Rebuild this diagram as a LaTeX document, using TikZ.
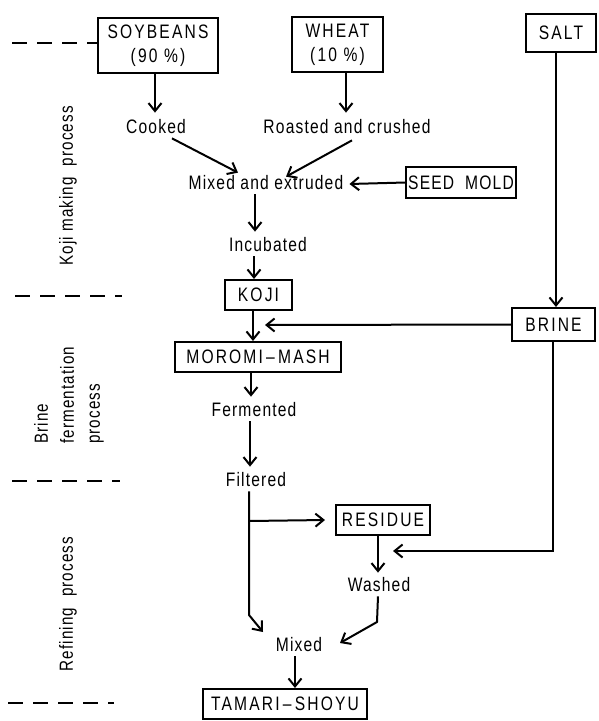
\documentclass[tikz,border=0pt]{standalone}
\usepackage{fontspec}
\setmainfont{Liberation Sans}[FakeStretch=0.8,LetterSpace=6]
\newfontfamily\boxfont{Liberation Sans}[FakeStretch=0.8,LetterSpace=11]
\newfontfamily\seedfont{Liberation Sans}[FakeStretch=0.8,LetterSpace=6]
\usetikzlibrary{arrows.meta,calc}
\begin{document}
\begin{tikzpicture}[x=1pt,y=-1pt,
  every node/.style={font=\fontsize{19.5}{21}\selectfont},
  box/.style={draw,line width=2pt,inner sep=2pt,align=center,font=\boxfont\fontsize{19.5}{24}\selectfont},
  lbl/.style={inner sep=4pt},
  side/.style={rotate=90,inner sep=0pt,align=left,font=\fontsize{19}{26}\selectfont},
  arr/.style={line width=2pt,-{Straight Barb[length=8pt,width=13pt,line width=2pt]}},
  sep/.style={line width=2.4pt,dash pattern=on 15pt off 10pt}]
\useasboundingbox (0,0) rectangle (599,721);

% boxes
\node[box,minimum width=120pt,minimum height=55pt] (soy) at (158,45.5) {SOYBEANS\\(90 \%)};
\node[box,minimum width=91pt,minimum height=55pt] (wheat) at (337.5,44.5) {WHEAT\\(10 \%)};
\node[box,minimum width=70pt,minimum height=38pt] (salt) at (561,33) {SALT};
\node[box,minimum width=108pt,minimum height=31pt,font=\seedfont\fontsize{19.5}{24}\selectfont] (seed) at (461,182.5) {SEED\ \ MOLD};
\node[box,minimum width=67pt,minimum height=30pt] (koji) at (258.5,295) {KOJI};
\node[box,minimum width=83pt,minimum height=33pt] (brine) at (553.5,324.5) {BRINE};
\node[box,minimum width=166pt,minimum height=30pt] (moromi) at (258,357) {MOROMI\,\textendash\,MASH};
\node[box,minimum width=94pt,minimum height=30pt] (residue) at (383,520) {RESIDUE};
\node[box,minimum width=164pt,minimum height=30pt] (tamari) at (285,704) {TAMARI\,\textendash\,SHOYU};

% text steps
\node[lbl] (cooked) at (156,127) {Cooked};
\node[lbl] (roast) at (347,127) {Roasted and crushed};
\node[lbl] (mix) at (266,183) {Mixed and extruded};
\node[lbl] (incub) at (268,245) {Incubated};
\node[lbl] (ferm) at (254,410) {Fermented};
\node[lbl] (filt) at (256,480) {Filtered};
\node[lbl] (washed) at (379,585) {Washed};
\node[lbl] (mixed) at (299,645) {Mixed};

% side labels
\node[side] (lk) at (68,186) {Koji making\ \ process};
\node[side,anchor=west] (lb) at (69,444) {Brine\\fermentation\\process};
\node[side] (lr) at (68,604) {Refining\ \ process};

% separators
\coordinate (d1) at (12,43);
\draw[sep] (d1) -- (soy.west |- d1);
\coordinate (d2a) at (15,296); \coordinate (d2b) at (122,296);
\draw[sep] (d2a) -- (d2b);
\coordinate (d3a) at (12,481); \coordinate (d3b) at (120,481);
\draw[sep] (d3a) -- (d3b);
\coordinate (d4a) at (8,703); \coordinate (d4b) at (114,703);
\draw[sep] (d4a) -- (d4b);

% connectors
\draw[arr] (soy.south -| 155,0) -- ($(cooked.north)+(-1,-3)$);
\draw[arr] (wheat.south -| 346,0) -- ($(roast.north)+(-1,-3)$);
\draw[arr] ($(cooked.south)+(16,0)$) -- ($(mix.north)+(-28,1)$);
\draw[arr] ($(roast.south)+(5,2)$) -- ($(mix.north)+(20,5)$);
\draw[arr] (seed.west) -- ($(mix.east)+(2,1)$);
\draw[arr] ($(mix.south)+(-11,0)$) -- ($(incub.north)+(-13,-2)$);
\draw[arr] ($(incub.south)+(-14,0)$) -- (koji.north -| 254,0);
\draw[arr] (koji.south -| 253,0) -- (moromi.north -| 253,0);
\draw[arr] (salt.south -| 556,0) -- (brine.north -| 556,0);
\coordinate (bm) at (265,325);
\draw[arr] (brine.west) -- (bm);
\draw[arr] (moromi.south -| 251,0) -- ($(ferm.north)+(-3,-2)$);
\draw[arr] ($(ferm.south)+(-4,0)$) -- ($(filt.north)+(-6,-2)$);
\coordinate (fb) at (249,521);
\coordinate (fk) at (249,615);
\coordinate (mt) at (263,632);
\draw[arr] ($(filt.south)+(-7,0)$) -- (fk) -- (mt);
\draw[arr] (fb) -- ($(residue.west)+(-10,0)$);
\draw[arr] (residue.south -| 378,0) -- ($(washed.north)+(-1,-1)$);
\coordinate (bk) at (553,551);
\coordinate (bt) at (393,551);
\draw[arr] (brine.south -| 553,0) -- (bk) -- (bt);
\coordinate (wk) at (377,622);
\coordinate (wt) at (340,643);
\draw[arr] (washed.south -| 378,0) -- (wk) -- (wt);
\draw[arr] ($(mixed.south)+(-4,0)$) -- (tamari.north -| 295,0);
\end{tikzpicture}
\end{document}
